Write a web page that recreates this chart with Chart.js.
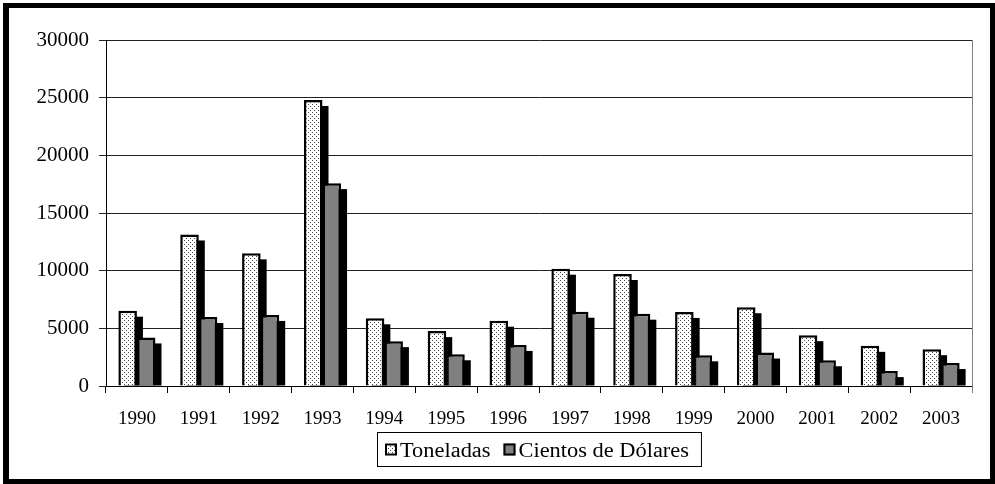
<!DOCTYPE html>
<html>
<head>
<meta charset="utf-8">
<script src="https://cdn.jsdelivr.net/npm/chart.js@4.4.1/dist/chart.umd.min.js"></script>
<style>
html,body{margin:0;padding:0;background:#fff}
#wrap{position:relative;width:995px;height:484px}
#marco{position:absolute;left:3px;top:3px;right:0;bottom:0;border:5px solid #000;border-left-width:6px;pointer-events:none}
</style>
</head>
<body>
<div id="wrap">
  <canvas id="grafico" width="995" height="484"></canvas>
  <div id="marco"></div>
</div>
<script>
// datos por año
const anios = ['1990','1991','1992','1993','1994','1995','1996','1997','1998','1999','2000','2001','2002','2003'];
const toneladas = [6530,13140,11500,24800,5870,4760,5660,10170,9710,6420,6830,4410,3480,3190];
const cientosDolares = [4210,5980,6160,17590,3890,2750,3560,6440,6270,2660,2900,2230,1290,1990];
const series = ['Toneladas','Cientos de Dólares'];
const ejeY = {min:0, max:30000, paso:5000};

const fuente = '"Liberation Serif","Times New Roman",serif';
const canvas = document.getElementById('grafico');
const ctx0 = canvas.getContext('2d');

// relleno punteado para la serie de toneladas
function patronPuntos(){
  const c = document.createElement('canvas');
  c.width = 4; c.height = 4;
  const g = c.getContext('2d');
  g.fillStyle = '#fff';
  g.fillRect(0,0,4,4);
  g.fillStyle = '#444';
  g.fillRect(0,0,1,1);
  g.fillRect(2,2,1,1);
  return ctx0.createPattern(c,'repeat');
}
const puntos = patronPuntos();

// sombra negra desplazada detrás de cada barra
const sombras = {
  id:'sombras',
  beforeDatasetsDraw(chart){
    const ctx = chart.ctx;
    ctx.save();
    ctx.fillStyle = '#000';
    chart.data.datasets.forEach((ds,i)=>{
      chart.getDatasetMeta(i).data.forEach(bar=>{
        const {x,y,base,width} = bar.getProps(['x','y','base','width'],true);
        ctx.fillRect(x - width/2 + 6, y + 6, width, base - y - 6);
      });
    });
    ctx.restore();
  }
};

// borde derecho del área y leyenda enmarcada
const marcoYLeyenda = {
  id:'marcoYLeyenda',
  afterDraw(chart){
    const ctx = chart.ctx, area = chart.chartArea, xs = chart.scales.x;
    ctx.save();
    ctx.strokeStyle = '#808080';
    ctx.lineWidth = 1;
    ctx.beginPath();
    ctx.moveTo(Math.round(area.right)+0.5, area.top);
    ctx.lineTo(Math.round(area.right)+0.5, area.bottom + 7);
    ctx.stroke();

    ctx.font = '20px ' + fuente;
    const esc = 1.12, lado = 12, hueco = 3, sep = 13, padIzq = 8, padDer = 12;
    const items = chart.data.datasets.map(ds=>({
      texto: ds.label, fondo: ds.backgroundColor,
      ancho: ctx.measureText(ds.label).width * esc
    }));
    let total = padIzq + padDer + sep*(items.length-1);
    items.forEach(it=>{ total += lado + hueco + it.ancho; });
    const izq = Math.round((area.left + area.right)/2 - total/2);
    const arriba = Math.round(xs.bottom);
    const alto = 34;
    ctx.strokeStyle = '#000';
    ctx.strokeRect(izq + 0.5, arriba + 0.5, total, alto);

    const cy = arriba + alto/2 + 0.5;
    let x = izq + padIzq;
    items.forEach(it=>{
      ctx.fillStyle = it.fondo;
      ctx.fillRect(x, cy - lado/2, lado, lado);
      ctx.lineWidth = 2;
      ctx.strokeStyle = '#000';
      ctx.strokeRect(x + 1, cy - lado/2 + 1, lado - 2, lado - 2);
      x += lado + hueco;
      ctx.save();
      ctx.translate(x, cy + 7);
      ctx.scale(esc, 1);
      ctx.fillStyle = '#000';
      ctx.textBaseline = 'alphabetic';
      ctx.fillText(it.texto, 0, 0);
      ctx.restore();
      x += it.ancho + sep;
    });
    ctx.restore();
  }
};

new Chart(canvas,{
  type:'bar',
  data:{
    labels: anios,
    datasets:[
      {label: series[0], data: toneladas, backgroundColor: puntos, borderColor:'#000', borderWidth:2.5},
      {label: series[1], data: cientosDolares, backgroundColor:'#808080', borderColor:'#000', borderWidth:2.5}
    ]
  },
  options:{
    responsive:false,
    animation:false,
    events:[],
    devicePixelRatio:1,
    layout:{padding:{left:0, top:40, right:23, bottom:52}},
    datasets:{bar:{categoryPercentage:0.6, barPercentage:1.0}},
    plugins:{
      legend:{display:false},
      tooltip:{enabled:false}
    },
    scales:{
      x:{
        grid:{drawOnChartArea:false, offset:true, tickLength:7, color:'#000'},
        border:{color:'#000'},
        ticks:{font:{family:fuente, size:19}, color:'#000', padding:15, maxRotation:0},
        afterFit(s){ s.height = 46; }
      },
      y:{
        min: ejeY.min, max: ejeY.max,
        grid:{color:'#222', tickLength:7},
        border:{color:'#000'},
        ticks:{stepSize: ejeY.paso, font:{family:fuente, size:21}, color:'#000', padding:10,
          callback: v => String(v)},
        afterFit(s){ s.width = 106; }
      }
    }
  },
  plugins:[sombras, marcoYLeyenda]
});
</script>
</body>
</html>
